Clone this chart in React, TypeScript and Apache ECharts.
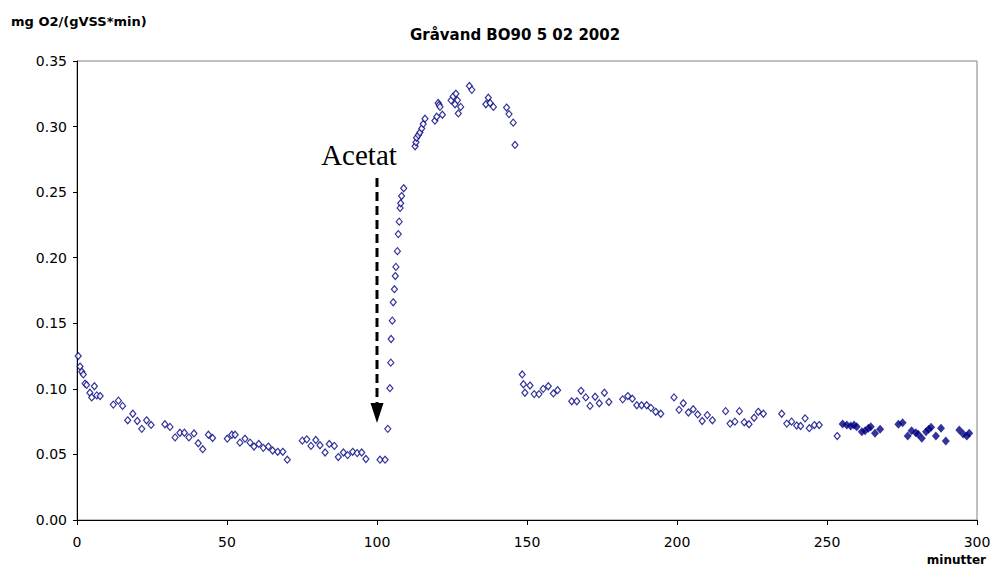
import { useEffect, useRef } from "react";
import * as echarts from "echarts";

const chartTitle = "Gråvand BO90 5 02 2002";
const yAxisTitle = "mg O2/(gVSS*min)";
const xAxisTitle = "minutter";
const annotationText = "Acetat";

const xTicks = { min: 0, max: 300, interval: 50 };
const yTicks = { min: 0, max: 0.35, interval: 0.05 };

// hollow diamonds (open markers)
const hollowMinutes = [
  0.4, 1, 1.6, 2.1, 2.7, 3.2, 4.3, 4.9, 5.8, 6.6, 7.7, 12.1, 13.8, 15.2, 16.9, 18.6, 20.1, 21.6, 23.2, 24.7,
  29.3, 31, 32.7, 34.3, 35.8, 37.3, 39, 40.4, 41.9, 43.8, 45.2, 50.1, 51.6, 52.7, 54.3, 56, 57.7, 59, 60.6, 62.1,
  63.8, 65.2, 66.9, 68.6, 70.1, 75.1, 76.6, 78, 79.6, 81, 82.7, 84.1, 85.8, 87.1, 88.8, 90.2, 91.9, 93.4, 94.9, 96.3,
  101, 102.7, 103.6, 104.3, 104.6, 104.7, 105.1, 105.4, 105.8, 106.1, 106.3, 106.8, 107.1, 107.4, 107.7, 107.9, 108.2, 108.9,
  112.7, 113, 113.2, 113.8, 114.3, 114.9, 115.4, 116, 119.3, 119.9, 120.4, 120.7, 121, 121.8, 124.7, 125.4, 126.3, 126.8,
  126, 127.9, 127.1, 130.8, 131.6, 137.1, 136.3, 137.7, 138.8, 143.2, 144, 145.4, 146,
  148.4, 148.8, 149.3, 151, 152.4, 154, 155.4, 157.1, 158.8, 160.2, 164.9, 166.6, 168, 169.6, 171, 172.7, 174.1, 175.8,
  177.3, 181.9, 183.6, 185.1, 186.6, 188.2, 189.9, 191.3, 192.9, 194.6, 199, 200.7, 202.1, 203.8, 205.4, 206.9, 208.4,
  210.1, 211.8, 216.2, 217.7, 219.3, 220.8, 222.4, 224, 225.7, 227.1, 228.8, 234.9, 236.6, 238.2, 239.9, 241.2, 242.7,
  244.1, 245.8, 247.4, 253.4,
];
const hollowRates = [
  0.125, 0.117, 0.113, 0.111, 0.104, 0.103, 0.097, 0.0935, 0.102, 0.095, 0.0945, 0.088, 0.091, 0.087, 0.076, 0.081, 0.0755, 0.0695, 0.076, 0.0725,
  0.073, 0.071, 0.063, 0.0665, 0.0665, 0.063, 0.066, 0.0585, 0.054, 0.065, 0.0625, 0.062, 0.065, 0.065, 0.059, 0.062, 0.059, 0.056, 0.058, 0.055,
  0.056, 0.053, 0.052, 0.052, 0.046, 0.0605, 0.0615, 0.0565, 0.061, 0.057, 0.0515, 0.058, 0.0565, 0.048, 0.0515, 0.0495, 0.052, 0.051, 0.0515, 0.0465,
  0.046, 0.046, 0.0695, 0.1005, 0.12, 0.138, 0.152, 0.166, 0.176, 0.186, 0.193, 0.205, 0.218, 0.2275, 0.238, 0.2415, 0.247, 0.253,
  0.285, 0.288, 0.2915, 0.2935, 0.2955, 0.2985, 0.302, 0.306, 0.3045, 0.3075, 0.318, 0.3165, 0.315, 0.309, 0.32, 0.323, 0.325, 0.32,
  0.317, 0.315, 0.31, 0.331, 0.328, 0.322, 0.317, 0.318, 0.315, 0.3145, 0.3095, 0.303, 0.286,
  0.111, 0.1035, 0.097, 0.1025, 0.096, 0.096, 0.1, 0.102, 0.0965, 0.099, 0.0905, 0.0905, 0.0985, 0.0935, 0.087, 0.094, 0.089, 0.097,
  0.09, 0.092, 0.0945, 0.0925, 0.0875, 0.0875, 0.0875, 0.0855, 0.0825, 0.081, 0.0935, 0.084, 0.089, 0.082, 0.0845, 0.0805, 0.0755,
  0.08, 0.076, 0.083, 0.0735, 0.075, 0.083, 0.0745, 0.073, 0.078, 0.0825, 0.081, 0.081, 0.0735, 0.075, 0.072, 0.0717, 0.0775,
  0.07, 0.0724, 0.0724, 0.064,
];

// filled diamonds (solid markers)
const filledMinutes = [
  255.2, 256.6, 257.9, 259, 259.9, 261.6, 262.7, 263.8, 264.6, 266, 267.7, 273.8, 275.2, 276.9, 278.2, 279.6, 280.4,
  281.6, 283, 283.9, 284.7, 286.3, 288, 289.6, 294.1, 295.4, 296.6, 297.4,
];
const filledRates = [
  0.0732, 0.0724, 0.0717, 0.0724, 0.0712, 0.0673, 0.0681, 0.0699, 0.0712, 0.0661, 0.0692, 0.073, 0.0742, 0.0641, 0.0681, 0.0666, 0.0653,
  0.0623, 0.0673, 0.0692, 0.0707, 0.0641, 0.0699, 0.0602, 0.0686, 0.0656, 0.0641, 0.0661,
];

// annotation anchor values (data space)
const acetatMinute = 100;
const acetatLabelPos = [94, 0.2783];
const arrowStartRate = 0.2608;
const arrowHeadBaseRate = 0.0892;
const arrowTipRate = 0.074;

const navy = "#000080";
const sans = '"DejaVu Sans", "Liberation Sans", Arial, sans-serif';

export default function App() {
  const ref = useRef<HTMLDivElement>(null);

  useEffect(() => {
    document.body.style.margin = "0";
    const chart = echarts.init(ref.current!, null, { renderer: "svg" });
    const hollow = hollowMinutes.map((m, i) => [m, hollowRates[i]]);
    const filled = filledMinutes.map((m, i) => [m, filledRates[i]]);

    chart.setOption({
      animation: false,
      backgroundColor: "#ffffff",
      title: [
        {
          text: chartTitle,
          left: 410,
          top: 27,
          padding: 0,
          textStyle: { fontFamily: sans, fontSize: 15, fontWeight: "bold", color: "#000" },
        },
        {
          text: yAxisTitle,
          left: 11,
          top: 15,
          padding: 0,
          textStyle: { fontFamily: sans, fontSize: 13, fontWeight: "bold", color: "#000" },
        },
        {
          text: xAxisTitle,
          right: 8,
          top: 554,
          padding: 0,
          textStyle: { fontFamily: sans, fontSize: 12, fontWeight: "bold", color: "#000" },
        },
      ],
      grid: {
        left: 77,
        right: 17,
        top: 61,
        bottom: 56,
        show: true,
        borderColor: "#808080",
        borderWidth: 1,
        backgroundColor: "transparent",
      },
      xAxis: {
        type: "value",
        min: xTicks.min,
        max: xTicks.max,
        interval: xTicks.interval,
        axisLine: { show: true, lineStyle: { color: "#000", width: 1 } },
        axisTick: { show: true, inside: false, length: 5, lineStyle: { color: "#000" } },
        splitLine: { show: false },
        axisLabel: { margin: 15, fontFamily: sans, fontSize: 14, color: "#000" },
      },
      yAxis: {
        type: "value",
        min: yTicks.min,
        max: yTicks.max,
        interval: yTicks.interval,
        axisLine: { show: true, lineStyle: { color: "#000", width: 1 } },
        axisTick: { show: true, inside: false, length: 4, lineStyle: { color: "#000" } },
        splitLine: { show: false },
        axisLabel: {
          margin: 10,
          fontFamily: sans,
          fontSize: 14,
          color: "#000",
          formatter: (v: number) => v.toFixed(2),
        },
      },
      series: [
        {
          type: "scatter",
          data: hollow,
          symbol: "diamond",
          symbolSize: [6, 7],
          itemStyle: { color: "#ffffff", borderColor: navy, borderWidth: 1.2 },
          emphasis: { disabled: true },
          z: 3,
        },
        {
          type: "scatter",
          data: filled,
          symbol: "diamond",
          symbolSize: [8, 9],
          itemStyle: { color: navy },
          emphasis: { disabled: true },
          z: 3,
        },
      ],
    });

    const px = (x: number, y: number) => chart.convertToPixel({ gridIndex: 0 }, [x, y]) as number[];
    const lab = px(acetatLabelPos[0], acetatLabelPos[1]);
    const a0 = px(acetatMinute, arrowStartRate);
    const a1 = px(acetatMinute, arrowHeadBaseRate);
    const tip = px(acetatMinute, arrowTipRate);

    chart.setOption({
      graphic: [
        {
          type: "text",
          x: lab[0],
          y: lab[1],
          z: 10,
          style: {
            text: annotationText,
            fill: "#000",
            font: '29px "Liberation Serif", "Times New Roman", serif',
            align: "center",
            verticalAlign: "middle",
          },
        },
        {
          type: "line",
          z: 10,
          shape: { x1: a0[0], y1: a0[1], x2: a1[0], y2: a1[1] },
          style: { stroke: "#000", lineWidth: 3, lineDash: [9, 5] },
        },
        {
          type: "polygon",
          z: 10,
          shape: {
            points: [
              [tip[0], tip[1]],
              [a1[0] - 6.5, a1[1]],
              [a1[0] + 6.5, a1[1]],
            ],
          },
          style: { fill: "#000" },
        },
      ],
    });

    return () => chart.dispose();
  }, []);

  return <div ref={ref} style={{ width: 994, height: 576 }} />;
}
